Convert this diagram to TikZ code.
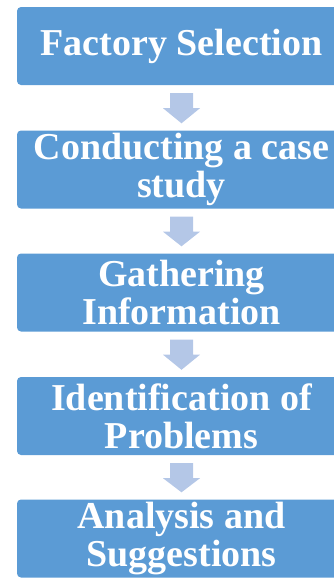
\documentclass[tikz,border=0pt]{standalone}
\usepackage{fontspec}
\setmainfont{Liberation Serif}
\usetikzlibrary{calc}
\definecolor{boxblue}{HTML}{5B9BD5}
\definecolor{arrowblue}{HTML}{B4C7E7}
\begin{document}
\begin{tikzpicture}[x=1pt,y=1pt,
  stepbox/.style={rectangle, rounded corners=4pt, fill=boxblue, draw=none,
    minimum width=329pt, minimum height=78pt, text=white,
    font=\fontsize{38}{38}\selectfont\bfseries, align=center, inner sep=0pt},
  flowarrow/.style={fill=arrowblue, draw=none}]
\useasboundingbox (0,0) rectangle (334,-579);
\clip (0,0) rectangle (334,-579);
\node[stepbox] (s1) at (181.5,-46) {Factory Selection};
\node[stepbox] (s2) at (181.5,-169.5) {Conducting a case\\study};
\node[stepbox] (s3) at (181.5,-292.5) {Gathering\\Information};
\node[stepbox] (s4) at (181.5,-416) {Identification of\\Problems};
\node[stepbox] (s5) at (181.5,-538.5) {Analysis and\\Suggestions};
\foreach \a/\b in {s1/s2,s2/s3,s3/s4,s4/s5} {
  \fill[flowarrow] ($(\a.south)+(-11.5,-8)$) -- ($(\a.south)+(11.5,-8)$)
    -- ($(\a.south)+(11.5,-23)$) -- ($(\a.south)+(18.5,-23)$)
    -- ($(\b.north)+(0,7)$)
    -- ($(\a.south)+(-18.5,-23)$) -- ($(\a.south)+(-11.5,-23)$) -- cycle;
}
\end{tikzpicture}
\end{document}
